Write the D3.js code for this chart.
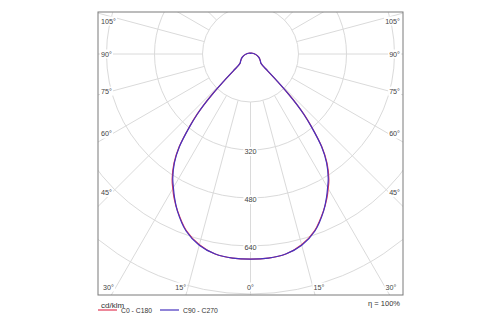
<!DOCTYPE html>
<html><head><meta charset="utf-8">
<script src="https://cdn.jsdelivr.net/npm/d3@7"></script>
<style>html,body{margin:0;padding:0;background:#fff;}svg{display:block;}</style>
</head><body>
<svg id="chart" width="500" height="325"></svg>
<script>
// ---- data ----
const gammaAngles = [0,5,10,15,20,25,28,30,32,35,37.5,40,41.5,42.5,43.5,44.5,45.5,47,50,54,60,68,78,90,110,135,160,180];
const c0c180  = [684,683,677,658,626,576,543,518,493,445,391,316,270,232,185,130,80,52,44,41,36,30,22,14,7,4,3,2];
const c90c270 = [684,683,677,660,628,577,540,514,489,442,389,314,268,230,183,128,80,52,44,41,36,30,22,14,7,4,3,2];
const ringValues = [160,320,480,640,800,960];
const ringLabels = [320,480,640];
const sideAngleLabels = [105,90,75,60,45];
const bottomAngleLabels = [30,15,0,15,30];
const bottomAngleSigns = [-1,-1,0,1,1];
const seriesNames = ["C0 - C180","C90 - C270"];
const unitLabel = "cd/klm";
const effLabel = "η = 100%";

// ---- layout ----
const svg = d3.select("#chart");
const fx0 = 98, fy0 = 12, fx1 = 403, fy1 = 295;
const cx = 250.5, cy = 54;
const rScale = d3.scaleLinear().domain([0, 800]).range([0, 240]);
const gridColor = "#dadada";
const font = "'Liberation Sans', Arial, sans-serif";

svg.append("defs").append("clipPath").attr("id","clip")
  .append("rect").attr("x",fx0).attr("y",fy0).attr("width",fx1-fx0).attr("height",fy1-fy0);

const grid = svg.append("g").attr("clip-path","url(#clip)");
grid.selectAll("circle.ring").data(ringValues).enter().append("circle")
  .attr("cx",cx).attr("cy",cy).attr("r",d=>rScale(d))
  .attr("fill","none").attr("stroke",gridColor).attr("stroke-width",1);

const spokeAngles = d3.range(0,360,15);
grid.selectAll("line.spoke").data(spokeAngles).enter().append("line")
  .attr("x1",a=>cx + Math.sin(a*Math.PI/180)*rScale(160))
  .attr("y1",a=>cy + Math.cos(a*Math.PI/180)*rScale(160))
  .attr("x2",a=>cx + Math.sin(a*Math.PI/180)*rScale(1400))
  .attr("y2",a=>cy + Math.cos(a*Math.PI/180)*rScale(1400))
  .attr("stroke",gridColor).attr("stroke-width",1);

// ---- curves ----
function pts(vals){
  const left = [], right = [];
  for (let i = gammaAngles.length-1; i >= 0; i--) left.push([Math.PI + gammaAngles[i]*Math.PI/180, rScale(vals[i])]);
  for (let i = 1; i < gammaAngles.length-1; i++) right.push([Math.PI - gammaAngles[i]*Math.PI/180, rScale(vals[i])]);
  return left.concat(right);
}
const radial = d3.lineRadial().angle(d=>d[0]).radius(d=>d[1]).curve(d3.curveCatmullRomClosed.alpha(0.5));
const colors = ["#e23a58","#4632bf"];
const curves = svg.append("g").attr("transform",`translate(${cx},${cy})`);
[c0c180, c90c270].forEach((vals,i)=>{
  curves.append("path").attr("d", radial(pts(vals)))
    .attr("fill","none").attr("stroke",colors[i]).attr("stroke-width",1.2);
});

// ---- labels ----
function label(x,y,text,anchor,size){
  const g = svg.append("g");
  const t = g.append("text").attr("x",x).attr("y",y).attr("text-anchor",anchor)
    .attr("dominant-baseline","central").attr("font-family",font).attr("font-size",size)
    .attr("fill","#444").text(text);
  const bb = t.node().getBBox();
  g.insert("rect","text").attr("x",bb.x-1).attr("y",bb.y).attr("width",bb.width+2).attr("height",bb.height).attr("fill","#fff");
  return g;
}
ringLabels.forEach(v=>label(cx, cy + rScale(v) + 1.5, String(v), "middle", 7.3));

sideAngleLabels.forEach(a=>{
  const rad = a*Math.PI/180;
  let y = cy + (cx-112) * Math.cos(rad)/Math.sin(rad);
  y = Math.max(y, 21);
  label(101, y, a+"°", "start", 7.2);
  label(400, y, a+"°", "end", 7.2);
});
bottomAngleLabels.forEach((a,i)=>{
  const s = bottomAngleSigns[i];
  const y = 287;
  const lx = cx + s*(y-cy)*Math.tan(a*Math.PI/180);
  if (s === 0) label(lx, y, a+"°", "middle", 7.2);
  else if (s < 0) label(lx-2, y, a+"°", "end", 7.2);
  else label(lx+0.5, y, a+"°", "start", 7.2);
});

// ---- frame ----
svg.append("rect").attr("x",fx0).attr("y",fy0).attr("width",fx1-fx0).attr("height",fy1-fy0)
  .attr("fill","none").attr("stroke","#7a7a7a").attr("stroke-width",1);

// ---- legend ----
svg.append("text").attr("x",101).attr("y",307.5).attr("font-family",font).attr("font-size",8)
  .attr("fill","#333").text(unitLabel);
svg.append("text").attr("x",400).attr("y",303).attr("text-anchor","end").attr("dominant-baseline","central")
  .attr("font-family",font).attr("font-size",7.5).attr("fill","#333").text(effLabel);
const legX = [98,160];
seriesNames.forEach((n,i)=>{
  svg.append("line").attr("x1",legX[i]).attr("x2",legX[i]+19).attr("y1",310).attr("y2",310)
    .attr("stroke",colors[i]).attr("stroke-width",1.2);
  svg.append("text").attr("x",legX[i]+23).attr("y",310.5).attr("dominant-baseline","central")
    .attr("font-family",font).attr("font-size",6.8).attr("fill","#333").text(n);
});
</script>
</body></html>
